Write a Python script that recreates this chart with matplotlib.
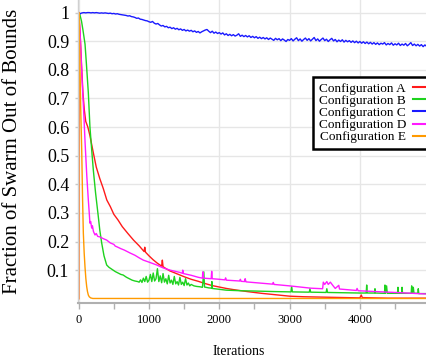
import matplotlib.pyplot as plt
from matplotlib.ticker import MultipleLocator

plt.rcParams["font.family"] = ["Liberation Serif", "DejaVu Serif"]

# --- data: fraction of the swarm outside the search bounds per iteration ---
ITER_A = [0, 3, 20, 40, 60, 80, 100, 130, 160, 200, 250, 300, 350, 400, 450,
          500, 560, 620, 700, 780, 860, 930, 940, 950, 1000, 1060, 1120, 1180,
          1190, 1200, 1250, 1300, 1400, 1500, 1600, 1700, 1800, 1900, 2000,
          2100, 2200, 2400, 2600, 2800, 3000, 3200, 3400, 3600, 3800, 4000,
          4020, 4035, 4200, 4400, 4600, 4800, 5000]
CONF_A = [0.0, 1.0, 0.93, 0.82, 0.72, 0.66, 0.62, 0.60, 0.57, 0.52, 0.46,
          0.42, 0.385, 0.345, 0.322, 0.295, 0.275, 0.252, 0.228, 0.205, 0.185,
          0.165, 0.18, 0.163, 0.15, 0.136, 0.124, 0.114, 0.135, 0.112, 0.104,
          0.097, 0.087, 0.077, 0.068, 0.061, 0.053, 0.046, 0.041, 0.036,
          0.032, 0.025, 0.019, 0.014, 0.009, 0.007, 0.006, 0.005, 0.004,
          0.003, 0.013, 0.004, 0.003, 0.002, 0.002, 0.002, 0.002]

ITER_B = [0, 20, 40, 60, 90, 110, 137, 160, 185, 208, 240, 279, 300, 327,
          360, 398, 430, 460, 490, 520, 560, 600, 632, 680, 720, 760, 800,
          840, 860, 880, 900, 920, 940, 960, 980, 1000, 1020, 1040, 1060,
          1080, 1100, 1120, 1140, 1160, 1180, 1200, 1220, 1240, 1260, 1280,
          1300, 1320, 1340, 1360, 1380, 1400, 1420, 1440, 1460, 1480, 1500,
          1520, 1540, 1560, 1580, 1600, 1640, 1680, 1720, 1760, 1780, 1790,
          1850, 1890, 1895, 1900, 2000, 2100, 2300, 2500, 2800, 3020, 3030,
          3040, 3280, 3290, 3300, 3520, 3530, 3540, 4000, 4090, 4097, 4105,
          4210, 4215, 4220, 4350, 4357, 4365, 4380, 4390, 4535, 4542, 4550,
          4595, 4600, 4607, 4730, 4737, 4745, 4760, 4770, 4825, 4831, 4838,
          5000]
CONF_B = [1.0, 0.99, 0.97, 0.94, 0.89, 0.82, 0.72, 0.60, 0.52, 0.45, 0.37,
          0.287, 0.24, 0.195, 0.15, 0.118, 0.11, 0.105, 0.10, 0.095, 0.09,
          0.085, 0.083, 0.075, 0.07, 0.065, 0.062, 0.06, 0.058, 0.066, 0.057,
          0.072, 0.06, 0.078, 0.058, 0.065, 0.085, 0.06, 0.09, 0.062, 0.07,
          0.105, 0.06, 0.08, 0.056, 0.088, 0.058, 0.07, 0.052, 0.082, 0.055,
          0.065, 0.05, 0.078, 0.052, 0.06, 0.048, 0.075, 0.05, 0.058, 0.046,
          0.07, 0.048, 0.055, 0.045, 0.05, 0.045, 0.043, 0.042, 0.04, 0.094,
          0.041, 0.038, 0.037, 0.06, 0.036, 0.033, 0.03, 0.028, 0.027, 0.025,
          0.024, 0.042, 0.024, 0.023, 0.035, 0.023, 0.022, 0.035, 0.022, 0.02,
          0.02, 0.048, 0.02, 0.02, 0.035, 0.02, 0.019, 0.048, 0.019, 0.045,
          0.019, 0.019, 0.04, 0.019, 0.019, 0.04, 0.019, 0.019, 0.045, 0.019,
          0.04, 0.019, 0.019, 0.035, 0.018, 0.018]

ITER_C = list(range(0, 5001, 25))
CONF_C = [0.990, 0.997, 0.999, 1.000, 0.999, 1.000, 1.000, 0.999,
          1.000, 0.999, 1.000, 0.999, 0.998, 0.999, 0.998, 0.999,
          0.998, 0.997, 0.998, 0.996, 0.997, 0.995, 0.996, 0.994,
          0.993, 0.992, 0.991, 0.990, 0.988, 0.989, 0.986, 0.985,
          0.983, 0.980, 0.981, 0.977, 0.976, 0.974, 0.972, 0.971,
          0.968, 0.966, 0.969, 0.963, 0.960, 0.962, 0.957, 0.953,
          0.955, 0.950, 0.952, 0.947, 0.949, 0.944, 0.947, 0.942,
          0.945, 0.940, 0.943, 0.938, 0.941, 0.936, 0.939, 0.935,
          0.938, 0.933, 0.936, 0.931, 0.934, 0.929, 0.933, 0.936,
          0.939, 0.941, 0.935, 0.930, 0.935, 0.928, 0.932, 0.927,
          0.930, 0.925, 0.929, 0.922, 0.926, 0.920, 0.924, 0.919,
          0.923, 0.918, 0.921, 0.926, 0.917, 0.921, 0.916, 0.920,
          0.915, 0.919, 0.913, 0.917, 0.912, 0.916, 0.910, 0.914,
          0.909, 0.913, 0.908, 0.912, 0.906, 0.911, 0.907, 0.903,
          0.910, 0.905, 0.909, 0.902, 0.908, 0.904, 0.899, 0.906,
          0.903, 0.909, 0.901, 0.907, 0.912, 0.902, 0.908, 0.900,
          0.906, 0.911, 0.903, 0.909, 0.901, 0.907, 0.913, 0.902,
          0.908, 0.900, 0.906, 0.911, 0.902, 0.907, 0.899, 0.905,
          0.910, 0.901, 0.906, 0.898, 0.904, 0.899, 0.905, 0.897,
          0.903, 0.898, 0.902, 0.896, 0.901, 0.895, 0.900, 0.894,
          0.899, 0.893, 0.898, 0.892, 0.897, 0.891, 0.896, 0.890,
          0.895, 0.889, 0.894, 0.888, 0.893, 0.890, 0.895, 0.887,
          0.892, 0.888, 0.894, 0.886, 0.891, 0.887, 0.893, 0.885,
          0.890, 0.886, 0.892, 0.884, 0.889, 0.895, 0.885, 0.890,
          0.884, 0.889, 0.883, 0.888, 0.881, 0.887, 0.882, 0.886,
          0.884]

ITER_D = [0, 20, 45, 70, 90, 115, 137, 150, 160, 170, 185, 195, 210, 232,
          250, 270, 303, 350, 398, 450, 500, 520, 540, 600, 650, 730, 800,
          860, 919, 1000, 1110, 1200, 1300, 1440, 1475, 1480, 1490, 1600,
          1700, 1760, 1765, 1775, 1885, 1892, 1900, 2000, 2080, 2090, 2100,
          2290, 2300, 2310, 2360, 2368, 2380, 2760, 2768, 2780, 3000, 3300,
          3470, 3480, 3500, 3530, 3550, 3580, 3620, 3650, 3700, 3710, 3950,
          3960, 3975, 4500, 5000]
CONF_D = [1.0, 0.93, 0.78, 0.66, 0.55, 0.43, 0.345, 0.30, 0.264, 0.27,
          0.247, 0.255, 0.235, 0.223, 0.228, 0.218, 0.216, 0.21, 0.205,
          0.195, 0.19, 0.184, 0.182, 0.175, 0.17, 0.16, 0.152, 0.143, 0.135,
          0.128, 0.118, 0.108, 0.10, 0.092, 0.089, 0.10, 0.088, 0.082, 0.075,
          0.072, 0.094, 0.072, 0.07, 0.096, 0.07, 0.068, 0.066, 0.073, 0.065,
          0.062, 0.068, 0.061, 0.06, 0.07, 0.059, 0.051, 0.057, 0.05, 0.045,
          0.037, 0.035, 0.058, 0.05, 0.06, 0.05, 0.058, 0.045, 0.036, 0.047,
          0.034, 0.029, 0.036, 0.028, 0.022, 0.016]

ITER_E = [0, 2, 15, 30, 43, 55, 66, 78, 90, 102, 114, 125, 137, 150, 170,
          200, 5000]
CONF_E = [0.0, 1.0, 0.85, 0.65, 0.52, 0.35, 0.23, 0.16, 0.11, 0.07, 0.042,
          0.025, 0.013, 0.007, 0.003, 0.001, 0.001]

SERIES = [
    ("Configuration A", ITER_A, CONF_A, "#ff1a1a"),
    ("Configuration B", ITER_B, CONF_B, "#1ed21e"),
    ("Configuration C", ITER_C, CONF_C, "#1a1aff"),
    ("Configuration D", ITER_D, CONF_D, "#ff1aff"),
    ("Configuration E", ITER_E, CONF_E, "#ff9a00"),
]
Y_TICKS = [0.1, 0.2, 0.3, 0.4, 0.5, 0.6, 0.7, 0.8, 0.9, 1.0]
Y_LABELS = ["0.1", "0.2", "0.3", "0.4", "0.5", "0.6", "0.7", "0.8", "0.9", "1"]

fig = plt.figure(figsize=(4.27, 3.6), dpi=100)
ax = fig.add_axes([0.1815, 0.159, 0.8185, 0.841])

for label, xs, ys, color in SERIES:
    ax.plot(xs, ys, color=color, lw=1.0, label=label)

ax.set_xlim(-17, 4955)
ax.set_ylim(-0.014, 1.044)

ax.xaxis.set_major_locator(MultipleLocator(1000))
ax.xaxis.set_minor_locator(MultipleLocator(500))
ax.set_yticks(Y_TICKS)
ax.set_yticklabels(Y_LABELS)
ax.tick_params(axis="x", which="both", direction="out", length=4, width=1,
               color="#b0b0b0", labelsize=9, pad=4)
ax.tick_params(axis="y", direction="out", length=2, width=1,
               color="#c8c8c8", labelsize=13, pad=4)

ax.grid(True, which="major", color="#e6e6e6", lw=1.0)
ax.set_axisbelow(True)
for side in ("top", "right"):
    ax.spines[side].set_visible(False)
ax.spines["bottom"].set_color("#b0b0b0")
ax.spines["bottom"].set_linewidth(1.5)
ax.spines["left"].set_color("#d0d0d0")
ax.spines["left"].set_linewidth(1.0)

ax.set_xlabel("Iterations", fontsize=10)
ax.xaxis.set_label_coords(0.46, -0.14)
ax.set_ylabel("Fraction of Swarm Out of Bounds", fontsize=15)
ax.yaxis.set_label_coords(-0.16, 0.5)

# legend runs past the right edge of the canvas, handles after the text
leg = ax.legend(loc="upper left", bbox_to_anchor=(0.675, 0.7456),
                markerfirst=False, fontsize=9.5, handlelength=2.0,
                handletextpad=0.5, labelspacing=0.0, borderpad=0.4,
                fancybox=False, framealpha=1.0, borderaxespad=0)
leg.get_frame().set_edgecolor("black")
leg.get_frame().set_linewidth(1.8)
for line in leg.get_lines():
    line.set_linewidth(1.5)

fig.savefig("out.png", dpi=100)
